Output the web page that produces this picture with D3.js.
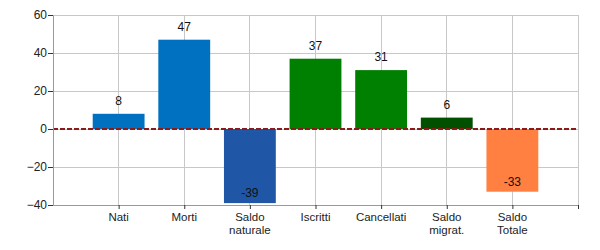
<!DOCTYPE html>
<html><head><meta charset="utf-8">
<script src="https://cdn.jsdelivr.net/npm/d3@7"></script>
<style>body{margin:0;background:#fff}svg{display:block}text{font-family:"Liberation Sans",Arial,sans-serif}</style>
</head><body><svg id="c" width="600" height="250"></svg>
<script>
const categories = [["Nati"],["Morti"],["Saldo","naturale"],["Iscritti"],["Cancellati"],["Saldo","migrat."],["Saldo","Totale"]];
const values = [8, 47, -39, 37, 31, 6, -33];
const colors = ["#0070C0","#0070C0","#1F56A6","#008000","#008000","#005000","#FF8040"];
const yTicks = [60, 40, 20, 0, -20, -40];

const svg = d3.select("#c");
const L = 53, R = 578, T = 15, B = 205;
const x = d3.scaleLinear().domain([0, categories.length + 1]).range([L, R]);
const y = d3.scaleLinear().domain([-40, 60]).range([B, T]);
const step = x(1) - x(0);
const bw = step * 0.79;

// grid
svg.append("g").selectAll("line").data(yTicks).join("line")
  .attr("x1", L).attr("x2", R).attr("y1", d => y(d)).attr("y2", d => y(d))
  .attr("stroke", "#c8c8c8").attr("stroke-width", 1).attr("shape-rendering","crispEdges");
svg.append("g").selectAll("line").data(d3.range(1, categories.length + 2)).join("line")
  .attr("x1", d => x(d)).attr("x2", d => x(d)).attr("y1", T).attr("y2", B)
  .attr("stroke", "#c8c8c8").attr("stroke-width", 1).attr("shape-rendering","crispEdges");

// bars
svg.append("g").selectAll("rect").data(values).join("rect")
  .attr("x", (d, i) => x(i + 1) - bw / 2).attr("width", bw)
  .attr("y", d => y(Math.max(0, d))).attr("height", d => Math.abs(y(d) - y(0)))
  .attr("fill", (d, i) => colors[i]);

// value labels
svg.append("g").selectAll("text").data(values).join("text")
  .attr("x", (d, i) => x(i + 1))
  .attr("y", d => d >= 0 ? y(d) - 9 : y(d) - 6)
  .attr("text-anchor", "middle").attr("font-size", 12).attr("fill", "#111")
  .text(d => d);

// zero line
svg.append("line").attr("x1", L).attr("x2", R).attr("y1", y(0)).attr("y2", y(0))
  .attr("stroke", "#8B1A1A").attr("stroke-width", 2).attr("stroke-dasharray", "5,2");

// y axis
const ya = svg.append("g").attr("transform", `translate(${L},0)`)
  .call(d3.axisLeft(y).tickValues(yTicks).tickSize(5).tickSizeOuter(0));
ya.select(".domain").attr("stroke", "#999");
ya.selectAll(".tick line").attr("stroke", "#333");
ya.selectAll(".tick text").attr("font-size", 12).attr("fill", "#222").attr("font-family", "Liberation Sans, Arial, sans-serif").attr("dx", 2);

// x axis
const xa = svg.append("g").attr("transform", `translate(0,${B})`)
  .call(d3.axisBottom(x).tickValues(d3.range(1, categories.length + 2)).tickSize(4).tickSizeOuter(0).tickFormat(""));
xa.select(".domain").attr("stroke", "#999");
xa.selectAll(".tick line").attr("stroke", "#333");
xa.selectAll(".tick text").remove();

// category labels
const cl = svg.append("g").selectAll("text").data(categories).join("text")
  .attr("x", (d, i) => x(i + 1)).attr("y", B + 16)
  .attr("text-anchor", "middle").attr("font-size", 11.5).attr("fill", "#222");
cl.selectAll("tspan").data(d => d).join("tspan")
  .attr("x", function(){ return this.parentNode.getAttribute("x"); })
  .attr("dy", (d, j) => j === 0 ? 0 : 13).text(d => d);
</script></body></html>
